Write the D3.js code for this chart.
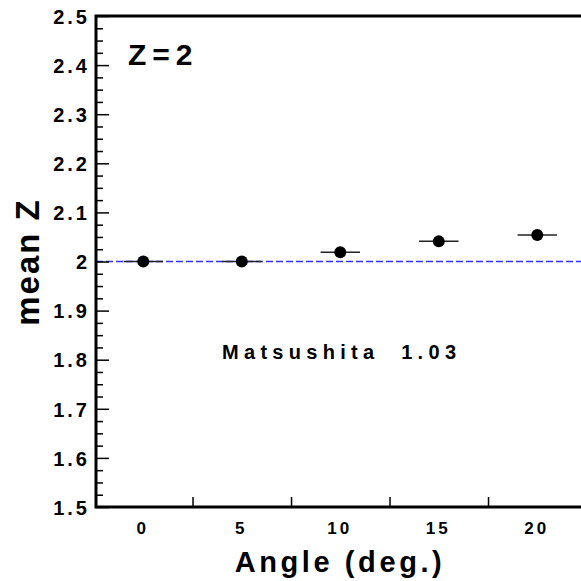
<!DOCTYPE html>
<html>
<head>
<meta charset="utf-8">
<script src="https://cdn.jsdelivr.net/npm/d3@7"></script>
<style>
  body { margin: 0; background: #fff; }
  svg { display: block; font-family: "Liberation Sans", Arial, sans-serif; font-weight: bold; }
</style>
</head>
<body>
<div id="chart"></div>
<script>
// chart size
var svgWidth = 581;
var svgHeight = 581;

// data
var angles = [0, 5, 10, 15, 20];
var meanZ = [2.0, 2.0, 2.019, 2.041, 2.054];
var angleErr = [1, 1, 1, 1, 1];
var xLabelTicks = [0, 5, 10, 15, 20];
var xMarkTicks = [2.5, 7.5, 12.5, 17.5, 22.5];
var yMajorTicks = [1.5, 1.6, 1.7, 1.8, 1.9, 2.0, 2.1, 2.2, 2.3, 2.4, 2.5];
var expectedZ = 2;

var svg = d3.select("#chart")
    .append("svg")
    .attr("width", svgWidth)
    .attr("height", svgHeight);

// scales
var xScale = d3.scaleLinear()
    .domain([-2.4, 22.6])
    .range([96, 588.5]);
var yScale = d3.scaleLinear()
    .domain([1.5, 2.5])
    .range([507, 16]);

var plotLeft = xScale(-2.4), plotTop = yScale(2.5), plotBottom = yScale(1.5);

// reference line at Z = 2
svg.append("line")
    .attr("x1", plotLeft)
    .attr("x2", svgWidth)
    .attr("y1", yScale(expectedZ))
    .attr("y2", yScale(expectedZ))
    .attr("stroke", "#3030ff")
    .attr("stroke-width", 1.5)
    .attr("stroke-dasharray", "7,3");

// y axis: major + minor ticks pointing inward
var yMinor = d3.range(1.5, 2.5001, 0.025).filter(function(v) {
    return Math.abs(v * 10 - Math.round(v * 10)) > 0.01;
});
svg.append("g")
    .attr("transform", `translate(${plotLeft},0)`)
    .call(d3.axisLeft(yScale).tickValues(yMinor).tickSize(-7).tickFormat(""))
    .call(g => g.select(".domain").remove())
    .selectAll("line").attr("stroke-width", 1.5);

var yAxisG = svg.append("g")
    .attr("transform", `translate(${plotLeft},0)`)
    .call(d3.axisLeft(yScale).tickValues(yMajorTicks).tickSize(-13).tickPadding(9)
        .tickFormat(d => d3.format("")(+d.toFixed(1))));
yAxisG.select(".domain").remove();
yAxisG.selectAll("line").attr("stroke-width", 1.5);
yAxisG.selectAll("text")
    .attr("font-size", 20)
    .attr("font-weight", "bold")
    .attr("font-family", "Liberation Sans, Arial, sans-serif")
    .attr("letter-spacing", 3)
    .attr("dx", 3)
    .attr("dy", "0.36em")
    .attr("fill", "#000");

// x axis: tick marks between labels, labels without ticks
svg.append("g")
    .attr("transform", `translate(0,${plotBottom})`)
    .call(d3.axisBottom(xScale).tickValues(xMarkTicks).tickSize(-10).tickFormat(""))
    .call(g => g.select(".domain").remove())
    .selectAll("line").attr("stroke-width", 1.5);

var xAxisG = svg.append("g")
    .attr("transform", `translate(0,${plotBottom})`)
    .call(d3.axisBottom(xScale).tickValues(xLabelTicks).tickSize(0).tickPadding(15));
xAxisG.select(".domain").remove();
xAxisG.selectAll("text")
    .attr("font-size", 17)
    .attr("font-weight", "bold")
    .attr("font-family", "Liberation Sans, Arial, sans-serif")
    .attr("letter-spacing", 3)
    .attr("dx", -1)
    .attr("fill", "#000");

// frame lines (left, bottom, top)
svg.append("path")
    .attr("d", `M${svgWidth},${plotTop}H${plotLeft}V${plotBottom}H${svgWidth}`)
    .attr("fill", "none")
    .attr("stroke", "#000")
    .attr("stroke-width", 3);

// horizontal error bars
svg.selectAll(".errbar")
    .data(angles)
    .enter()
    .append("line")
    .attr("class", "errbar")
    .attr("x1", (d, i) => xScale(d - angleErr[i]))
    .attr("x2", (d, i) => xScale(d + angleErr[i]))
    .attr("y1", (d, i) => yScale(meanZ[i]))
    .attr("y2", (d, i) => yScale(meanZ[i]))
    .attr("stroke", "#222")
    .attr("stroke-width", 1.5);

// points
svg.selectAll(".pt")
    .data(angles)
    .enter()
    .append("circle")
    .attr("class", "pt")
    .attr("cx", d => xScale(d))
    .attr("cy", (d, i) => yScale(meanZ[i]))
    .attr("r", 6)
    .attr("fill", "#000");

// labels
svg.append("text")
    .attr("x", 128)
    .attr("y", 65)
    .attr("font-size", 30)
    .attr("letter-spacing", 6)
    .text("Z=2");

svg.append("text")
    .attr("x", 222)
    .attr("y", 359)
    .attr("font-size", 20)
    .attr("letter-spacing", 5.3)
    .attr("xml:space", "preserve")
    .text("Matsushita  1.03");

svg.append("text")
    .attr("text-anchor", "middle")
    .attr("x", 340)
    .attr("y", 572)
    .attr("font-size", 29)
    .attr("letter-spacing", 3.6)
    .text("Angle (deg.)");

svg.append("text")
    .attr("transform", "rotate(-90)")
    .attr("text-anchor", "middle")
    .attr("x", -262)
    .attr("y", 39)
    .attr("font-size", 33)
    .attr("letter-spacing", 2)
    .text("mean Z");
</script>
</body>
</html>
